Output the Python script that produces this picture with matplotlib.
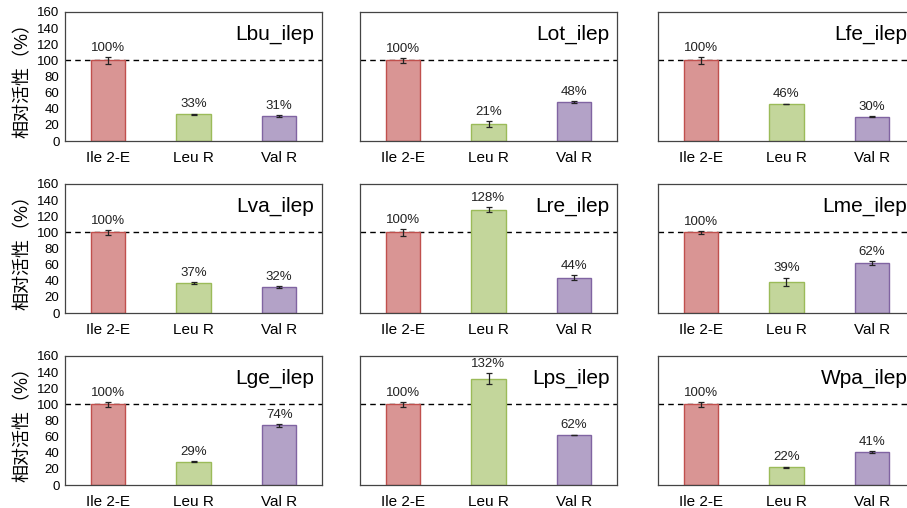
import matplotlib
matplotlib.use("Agg")
import matplotlib.pyplot as plt

plt.rcParams['font.family'] = ['Liberation Sans', 'Noto Sans CJK SC', 'DejaVu Sans']

categories = ["Ile 2-E", "Leu R", "Val R"]
panel_names = ["Lbu_ilep", "Lot_ilep", "Lfe_ilep",
               "Lva_ilep", "Lre_ilep", "Lme_ilep",
               "Lge_ilep", "Lps_ilep", "Wpa_ilep"]
activity = [[100, 33, 31], [100, 21, 48], [100, 46, 30],
            [100, 37, 32], [100, 128, 44], [100, 39, 62],
            [100, 29, 74], [100, 132, 62], [100, 22, 41]]
errors = [[4, 1, 1], [3, 4, 1], [4, 0.5, 0.8],
          [3, 1, 1.5], [4, 3, 3], [1.5, 5, 2],
          [3, 1, 2], [3, 7, 0.5], [3, 0.5, 1]]

fill_colors = ["#D99594", "#C3D69B", "#B3A2C7"]
edge_colors = ["#C0504D", "#9BBB59", "#8064A2"]

fig = plt.figure(figsize=(9.07, 5.08), dpi=100)
W, H = 907, 508
col_left = [65, 360, 658]
row_bottom = [141, 313, 485]
ax_w, ax_h = 257, 129

for i, name in enumerate(panel_names):
    r, c = divmod(i, 3)
    ax = fig.add_axes([col_left[c] / W, 1 - row_bottom[r] / H, ax_w / W, ax_h / H])
    x = range(len(categories))
    ax.bar(x, activity[i], width=0.4, color=fill_colors,
           edgecolor=edge_colors, linewidth=1.0, zorder=2)
    ax.errorbar(x, activity[i], yerr=errors[i], fmt='none', ecolor='#222222',
                elinewidth=0.9, capsize=2.5, capthick=0.9, zorder=3)
    # percentage labels above each bar
    for xi, v, e in zip(x, activity[i], errors[i]):
        ax.text(xi, v + max(e, 1) + 4, f"{v}%", ha='center', va='bottom',
                fontsize=9.5, color='#222222')
    ax.axhline(100, color='black', linestyle=(0, (4, 3)), linewidth=1.0, zorder=1)
    ax.set_xlim(-0.5, 2.5)
    ax.set_ylim(0, 160)
    ax.set_yticks(range(0, 161, 20))
    ax.set_xticks(list(x))
    ax.set_xticklabels(categories, fontsize=11)
    ax.tick_params(axis='x', length=0, pad=7)
    ax.tick_params(axis='y', length=0, labelsize=9.5, pad=4)
    if c != 0:
        ax.set_yticklabels([])
    else:
        ax.set_ylabel("相对活性（%）", fontsize=13, labelpad=4)
    ax.text(0.97, 0.9, name, transform=ax.transAxes, ha='right', va='top',
            fontsize=15)
    for sp in ax.spines.values():
        sp.set_color('#444444')
        sp.set_linewidth(0.9)

fig.savefig("out.png", dpi=100)
